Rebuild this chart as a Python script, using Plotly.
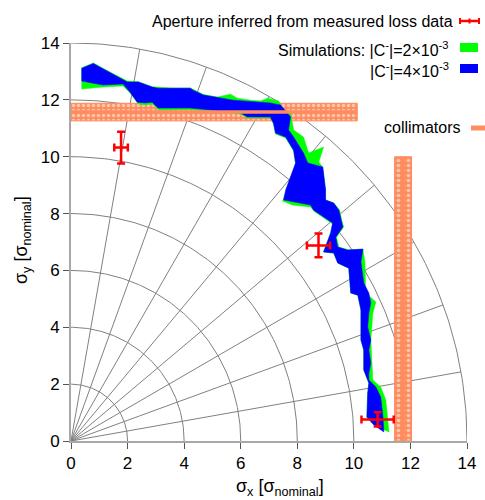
import numpy as np
import plotly.graph_objects as go

# ---- measured apertures (sigma units) ----
meas_x = [1.77, 8.75, 10.84]
meas_y = [10.32, 6.88, 0.76]
meas_xerr = [0.24, 0.41, 0.57]
meas_yerr = [0.56, 0.42, 0.25]

# ---- simulated dynamic aperture band, |C-| = 4e-3 ----
blue_outer_x = [0.38, 0.79, 1.21, 1.99, 2.38, 2.87, 3.08, 3.51, 4.22, 4.32, 4.68, 5.74, 6.59, 7.05, 7.41, 7.76,
                7.69, 7.87, 8.22, 8.37, 8.90, 9.00, 9.00, 9.29, 9.47, 9.54, 9.61, 9.36, 9.43, 9.78, 10.32, 10.25,
                10.32, 10.35, 10.53, 10.60, 10.53, 10.49, 10.60, 10.53, 10.60, 10.53, 10.53, 10.78, 10.95, 11.03, 11.06]
blue_outer_y = [13.11, 13.28, 13.05, 12.63, 12.63, 12.45, 12.41, 12.41, 12.41, 12.34, 12.17, 11.99, 11.92, 11.89, 11.82, 11.40,
                10.94, 10.69, 10.13, 9.78, 9.64, 8.83, 8.48, 8.37, 8.12, 7.77, 7.53, 7.17, 6.82, 6.72, 6.75, 6.30,
                5.77, 5.56, 5.21, 4.85, 4.50, 4.01, 3.55, 3.20, 2.74, 2.39, 2.15, 1.90, 1.55, 0.84, 0.32]
blue_inner_x = [0.38, 1.13, 1.84, 2.09, 2.34, 2.62, 2.87, 3.08, 4.22, 5.99, 6.24, 7.05, 7.16, 7.23, 7.59, 7.87,
                7.94, 7.76, 7.59, 7.52, 7.87, 8.47, 8.58, 8.83, 9.25, 9.18, 8.93, 9.29, 9.43, 9.82, 9.89, 10.14,
                10.25, 10.25, 10.35, 10.35, 10.53, 10.49, 10.46, 10.71]
blue_inner_y = [12.66, 12.52, 12.56, 12.27, 11.92, 11.89, 11.92, 11.71, 11.71, 11.54, 11.40, 11.40, 11.18, 10.83, 10.69, 10.23,
                9.78, 9.28, 8.83, 8.48, 8.41, 8.30, 8.12, 7.95, 7.67, 7.32, 6.65, 6.61, 6.26, 6.08, 5.21, 5.13,
                4.61, 3.55, 3.20, 2.50, 2.04, 1.69, 0.84, 0.56]

# ---- simulated dynamic aperture band, |C-| = 2e-3 ----
green_outer_x = [0.38, 0.79, 1.21, 1.99, 2.38, 2.87, 3.51, 4.22, 4.68, 5.18, 5.64, 5.88, 6.35, 6.70, 6.95, 7.34,
                 7.52, 7.76, 7.87, 8.22, 8.40, 8.93, 8.76, 8.90, 9.00, 9.00, 9.29, 9.50, 9.57, 9.64, 9.39, 9.47,
                 9.82, 10.32, 10.39, 10.42, 10.78, 10.67, 10.60, 10.67, 10.67, 10.95, 11.13, 11.24]
green_outer_y = [13.13, 13.30, 13.07, 12.66, 12.64, 12.46, 12.42, 12.42, 12.19, 12.10, 12.20, 12.06, 11.99, 11.96, 12.06, 11.96,
                 11.64, 11.54, 10.94, 10.69, 10.13, 10.34, 9.81, 9.64, 8.83, 8.48, 8.37, 8.12, 7.77, 7.53, 7.17, 6.82,
                 6.72, 6.75, 6.30, 5.21, 4.89, 4.50, 3.55, 2.50, 2.15, 1.90, 1.44, 0.32]
green_inner_x = [0.38, 1.13, 1.84, 2.13, 2.38, 2.62, 2.87, 3.12, 4.22, 5.99, 6.24, 7.05, 7.16, 7.23, 7.59, 7.87,
                 7.94, 7.76, 7.59, 7.48, 7.83, 8.47, 8.58, 8.83, 9.25, 9.18, 8.93, 9.29, 9.43, 9.82, 9.89, 10.14,
                 10.25, 10.25, 10.35, 10.35, 10.53, 10.49, 10.46, 10.71]
green_inner_y = [12.38, 12.45, 12.49, 12.20, 11.85, 11.82, 11.85, 11.64, 11.66, 11.50, 11.36, 11.36, 11.15, 10.80, 10.66, 10.20,
                 9.74, 9.25, 8.79, 8.44, 8.30, 8.23, 8.09, 7.91, 7.63, 7.32, 6.65, 6.61, 6.26, 6.08, 5.21, 5.13,
                 4.61, 3.55, 3.20, 2.50, 2.04, 1.69, 0.84, 0.56]

# ---- collimator settings (sigma units) ----
coll_h_center = 11.57      # vertical-plane jaw, horizontal band
coll_h_halfwidth = 0.31
coll_h_xmax = 10.12
coll_v_center = 11.74      # horizontal-plane jaw, vertical band
coll_v_halfwidth = 0.30
coll_v_ymax = 10.0

# ---- polar guide grid ----
grid_radii = [2, 4, 6, 8, 10, 12, 14]
spoke_angles = [10, 20, 30, 40, 50, 60, 70, 80]

x_ticks = [0, 2, 4, 6, 8, 10, 12, 14]
y_ticks = [0, 2, 4, 6, 8, 10, 12, 14]

ORANGE = "#ff8c5e"
GRID = "#808080"
FONT = "Liberation Sans, Arial, sans-serif"

fig = go.Figure()

# grid arcs
phi = np.linspace(0, np.pi / 2, 120)
ax_, ay_ = [], []
for r in grid_radii:
    ax_ += list(r * np.cos(phi)) + [None]
    ay_ += list(r * np.sin(phi)) + [None]
fig.add_trace(go.Scatter(x=ax_, y=ay_, mode="lines", line=dict(color=GRID, width=1), hoverinfo="skip", showlegend=False))

# grid spokes
sx, sy = [], []
rmax = max(grid_radii)
for a in spoke_angles:
    t = np.deg2rad(a)
    sx += [0, rmax * np.cos(t), None]
    sy += [0, rmax * np.sin(t), None]
fig.add_trace(go.Scatter(x=sx, y=sy, mode="lines", line=dict(color=GRID, width=1), hoverinfo="skip", showlegend=False))

# hatched collimator bands
pattern = dict(shape=".", fgcolor="white", bgcolor=ORANGE, size=5, solidity=0.4)
y0, y1 = coll_h_center - coll_h_halfwidth, coll_h_center + coll_h_halfwidth
fig.add_trace(go.Scatter(x=[0, coll_h_xmax, coll_h_xmax, 0, 0], y=[y0, y0, y1, y1, y0], fill="toself",
                         fillpattern=pattern, fillcolor=ORANGE, mode="lines", line=dict(color=ORANGE, width=1),
                         hoverinfo="skip", showlegend=False))
x0, x1 = coll_v_center - coll_v_halfwidth, coll_v_center + coll_v_halfwidth
fig.add_trace(go.Scatter(x=[x0, x1, x1, x0, x0], y=[0, 0, coll_v_ymax, coll_v_ymax, 0], fill="toself",
                         fillpattern=pattern, fillcolor=ORANGE, mode="lines", line=dict(color=ORANGE, width=1),
                         hoverinfo="skip", showlegend=False))

# simulation bands
def band(ox, oy, ix, iy):
    return list(ox) + list(ix[::-1]) + [ox[0]], list(oy) + list(iy[::-1]) + [oy[0]]

gx, gy = band(green_outer_x, green_outer_y, green_inner_x, green_inner_y)
fig.add_trace(go.Scatter(x=gx, y=gy, fill="toself", fillcolor="#00ff00", mode="lines",
                         line=dict(color="#00ff00", width=0.5), hoverinfo="skip", showlegend=False))
bx, by = band(blue_outer_x, blue_outer_y, blue_inner_x, blue_inner_y)
fig.add_trace(go.Scatter(x=bx, y=by, fill="toself", fillcolor="#0000ff", mode="lines",
                         line=dict(color="#0000ff", width=0.5), hoverinfo="skip", showlegend=False))

# collimator centre lines
fig.add_trace(go.Scatter(x=[0, coll_h_xmax], y=[coll_h_center, coll_h_center], mode="lines",
                         line=dict(color=ORANGE, width=3.5), hoverinfo="skip", showlegend=False))
fig.add_trace(go.Scatter(x=[coll_v_center, coll_v_center], y=[0, coll_v_ymax], mode="lines",
                         line=dict(color=ORANGE, width=3.5), hoverinfo="skip", showlegend=False))

# measured apertures
fig.add_trace(go.Scatter(x=meas_x, y=meas_y, mode="markers", marker=dict(color="red", size=2),
                         error_x=dict(type="data", array=meas_xerr, color="red", thickness=2.5, width=4),
                         error_y=dict(type="data", array=meas_yerr, color="red", thickness=2.5, width=4),
                         showlegend=False))

# key and axis titles, placed in paper coordinates
L, T, W, H = 71, 43, 396, 398
def px(u):
    return (u - L) / W
def py(v):
    return (T + H - v) / H

anns = [
    dict(text="Aperture inferred from measured loss data", x=px(455), y=py(21), xanchor="right"),
    dict(text="Simulations: |C<sup>-</sup>|=2×10<sup>-3</sup>", x=px(451), y=py(49), xanchor="right"),
    dict(text="|C<sup>-</sup>|=4×10<sup>-3</sup>", x=px(451), y=py(70), xanchor="right"),
    dict(text="collimators", x=px(462), y=py(128), xanchor="right"),
    dict(text="σ<sub>x</sub> [σ<sub>nominal</sub>]", x=px(280), y=py(488), xanchor="center", size=18),
    dict(text="σ<sub>y</sub> [σ<sub>nominal</sub>]", x=px(22), y=py(240), xanchor="center", size=18, textangle=-90),
]
for a in anns:
    size = a.pop("size", 16)
    fig.add_annotation(xref="paper", yref="paper", yanchor="middle", showarrow=False,
                       font=dict(family=FONT, size=size, color="black"), **a)

shapes = [
    dict(type="line", x0=px(460), x1=px(479), y0=py(21), y1=py(21), line=dict(color="red", width=2.5)),
    dict(type="line", x0=px(460), x1=px(460), y0=py(18), y1=py(24), line=dict(color="red", width=2)),
    dict(type="line", x0=px(479), x1=px(479), y0=py(18), y1=py(24), line=dict(color="red", width=2)),
    dict(type="line", x0=px(469.5), x1=px(469.5), y0=py(18.5), y1=py(23.5), line=dict(color="red", width=2)),
    dict(type="rect", x0=px(460), x1=px(478), y0=py(52), y1=py(43), fillcolor="#00ff00", line=dict(width=0)),
    dict(type="rect", x0=px(460), x1=px(478), y0=py(73), y1=py(64), fillcolor="#0000ff", line=dict(width=0)),
    dict(type="rect", x0=px(471), x1=px(486), y0=py(130.5), y1=py(125.5), fillcolor=ORANGE, line=dict(width=0)),
]
for s in shapes:
    fig.add_shape(xref="paper", yref="paper", **s)

axis_common = dict(range=[0, 14], showgrid=False, zeroline=False, showline=True, linecolor="#a8a8a8",
                   linewidth=2, ticks="outside", ticklen=6, tickcolor="#555555", tickwidth=1, automargin=False,
                   tickfont=dict(family=FONT, size=17, color="black"))
fig.update_layout(
    width=485, height=500,
    margin=dict(l=71, r=18, t=43, b=59),
    plot_bgcolor="white", paper_bgcolor="white",
    xaxis=dict(tickvals=x_ticks, **axis_common),
    yaxis=dict(tickvals=y_ticks, **axis_common),
    showlegend=False,
)

fig.write_html("out.html")
